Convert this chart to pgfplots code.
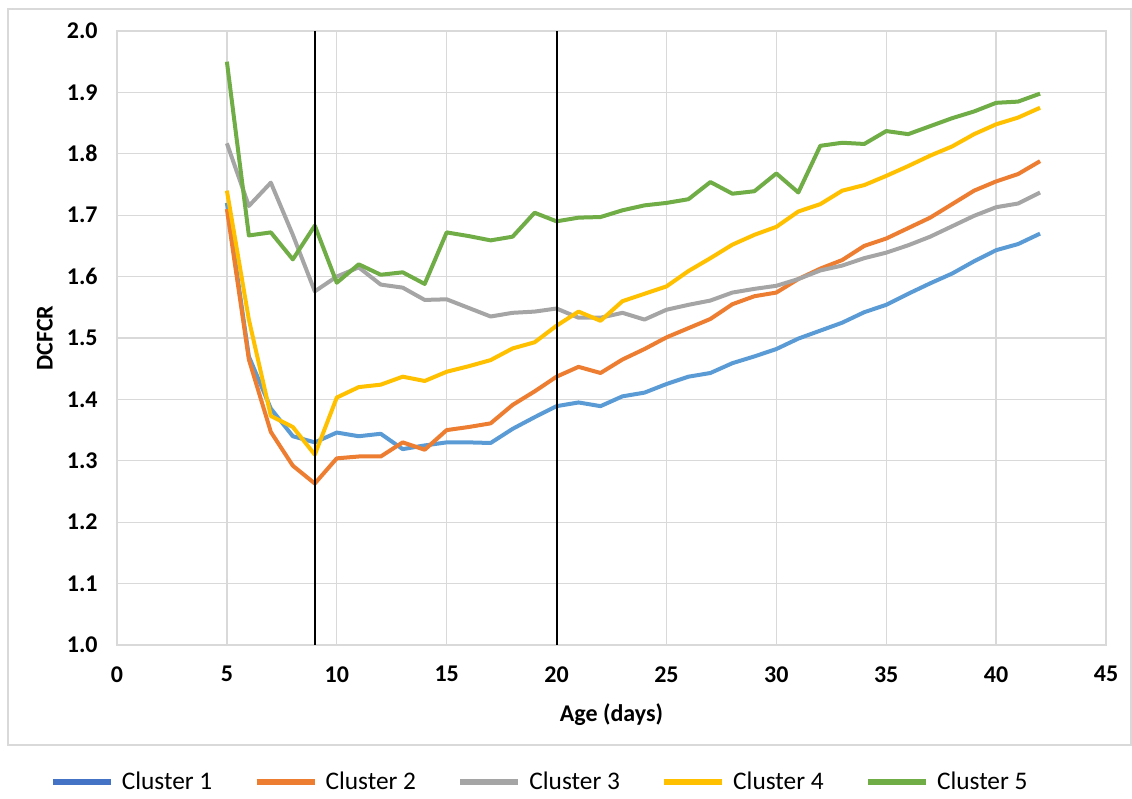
\documentclass[border=0pt]{standalone}
\usepackage{fontspec}
\setmainfont{Carlito}
\usepackage{pgfplots}
\pgfplotsset{compat=1.18}
\definecolor{c1}{HTML}{5B9BD5}
\definecolor{c2}{HTML}{ED7D31}
\definecolor{c3}{HTML}{A5A5A5}
\definecolor{c4}{HTML}{FFC000}
\definecolor{c5}{HTML}{70AD47}
\definecolor{c1leg}{HTML}{4472C4}
\definecolor{gridc}{HTML}{D9D9D9}
\begin{document}
\begin{tikzpicture}
\begin{axis}[
  scale only axis,
  width=741.75pt, height=460.5pt,
  at={(0,0)}, anchor=south west,
  xmin=0, xmax=45, ymin=1, ymax=2,
  xtick={0,5,...,45},
  ytick={1.0,1.1,...,2.01},
  /pgf/number format/assume math mode=true,
  yticklabel style={/pgf/number format/fixed, /pgf/number format/fixed zerofill, /pgf/number format/precision=1, xshift=-11pt},
  xticklabel style={yshift=-12.5pt},
  tick label style={font=\fontsize{18}{20}\selectfont\bfseries},
  major tick length=0pt,
  grid=major,
  grid style={draw=gridc, line width=1pt},
  axis line style={draw=gridc, line width=1pt},
  xlabel={Age (days)},
  ylabel={DCFCR},
  label style={font=\fontsize{18}{20}\selectfont\bfseries},
  xlabel style={at={(axis description cs:0.5,-0.114)}, anchor=center},
  ylabel style={at={(axis description cs:-0.073,0.5)}, anchor=center},
  legend columns=5,
  legend style={at={(axis description cs:0.4277,-0.2231)}, anchor=center, draw=none,
    font=\fontsize{19}{21}\selectfont,
    /tikz/every odd column/.append style={column sep=4pt},
    /tikz/every even column/.append style={column sep=29pt}},
  legend image code/.code={\draw[#1, line width=4.5pt] (0pt,0pt) -- (43.5pt,0pt);},
  every axis plot/.append style={line width=3pt, line join=round},
]
\addplot[c1, forget plot] coordinates {
(5,1.720) (6,1.470) (7,1.385) (8,1.340) (9,1.330) (10,1.346) (11,1.340) (12,1.344) (13,1.319) (14,1.325)
(15,1.330) (16,1.330) (17,1.329) (18,1.352) (19,1.371) (20,1.389) (21,1.395) (22,1.389) (23,1.405) (24,1.411)
(25,1.425) (26,1.437) (27,1.443) (28,1.459) (29,1.470) (30,1.482) (31,1.499) (32,1.512) (33,1.525) (34,1.542)
(35,1.554) (36,1.572) (37,1.589) (38,1.605) (39,1.625) (40,1.643) (41,1.653) (42,1.670)};
\addplot[c2, forget plot] coordinates {
(5,1.710) (6,1.465) (7,1.347) (8,1.292) (9,1.263) (10,1.304) (11,1.307) (12,1.307) (13,1.330) (14,1.318)
(15,1.350) (16,1.355) (17,1.361) (18,1.391) (19,1.413) (20,1.437) (21,1.453) (22,1.443) (23,1.465) (24,1.482)
(25,1.501) (26,1.516) (27,1.531) (28,1.555) (29,1.568) (30,1.574) (31,1.596) (32,1.613) (33,1.627) (34,1.650)
(35,1.662) (36,1.679) (37,1.696) (38,1.718) (39,1.740) (40,1.755) (41,1.767) (42,1.788)};
\addplot[c3, forget plot] coordinates {
(5,1.817) (6,1.715) (7,1.753) (8,1.668) (9,1.576) (10,1.600) (11,1.615) (12,1.587) (13,1.582) (14,1.562)
(15,1.563) (16,1.549) (17,1.535) (18,1.541) (19,1.543) (20,1.548) (21,1.533) (22,1.533) (23,1.541) (24,1.530)
(25,1.546) (26,1.554) (27,1.561) (28,1.574) (29,1.580) (30,1.585) (31,1.596) (32,1.610) (33,1.618) (34,1.630)
(35,1.639) (36,1.651) (37,1.665) (38,1.682) (39,1.699) (40,1.713) (41,1.719) (42,1.737)};
\addplot[c4, forget plot] coordinates {
(5,1.740) (6,1.530) (7,1.373) (8,1.355) (9,1.310) (10,1.403) (11,1.420) (12,1.424) (13,1.437) (14,1.430)
(15,1.445) (16,1.454) (17,1.464) (18,1.483) (19,1.493) (20,1.520) (21,1.543) (22,1.528) (23,1.560) (24,1.572)
(25,1.584) (26,1.609) (27,1.630) (28,1.652) (29,1.668) (30,1.681) (31,1.706) (32,1.718) (33,1.740) (34,1.749)
(35,1.764) (36,1.780) (37,1.797) (38,1.812) (39,1.832) (40,1.848) (41,1.859) (42,1.875)};
\addplot[c5, forget plot] coordinates {
(5,1.950) (6,1.667) (7,1.672) (8,1.628) (9,1.683) (10,1.590) (11,1.620) (12,1.603) (13,1.607) (14,1.588)
(15,1.672) (16,1.666) (17,1.659) (18,1.665) (19,1.704) (20,1.690) (21,1.696) (22,1.697) (23,1.708) (24,1.716)
(25,1.720) (26,1.726) (27,1.754) (28,1.735) (29,1.739) (30,1.768) (31,1.737) (32,1.813) (33,1.818) (34,1.816)
(35,1.837) (36,1.832) (37,1.845) (38,1.858) (39,1.869) (40,1.883) (41,1.885) (42,1.898)};
\addplot[black, line width=1.5pt, forget plot] coordinates {(9,1) (9,2)};
\addplot[black, line width=1.5pt, forget plot] coordinates {(20,1) (20,2)};
\addlegendimage{c1leg}
\addlegendentry{Cluster 1}
\addlegendimage{c2}
\addlegendentry{Cluster 2}
\addlegendimage{c3}
\addlegendentry{Cluster 3}
\addlegendimage{c4}
\addlegendentry{Cluster 4}
\addlegendimage{c5}
\addlegendentry{Cluster 5}
\end{axis}
\draw[gridc, line width=1pt] (-81.75pt,-75pt) rectangle (760.5pt,477pt);
\pgfresetboundingbox
\useasboundingbox (-87.75pt,-115.5pt) rectangle (761.25pt,483.75pt);
\end{tikzpicture}
\end{document}
